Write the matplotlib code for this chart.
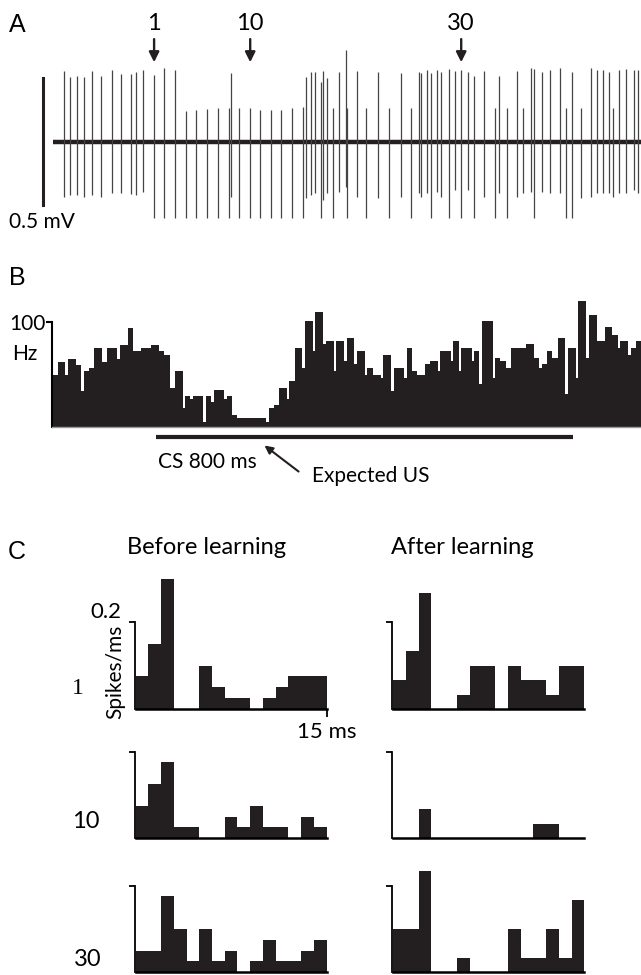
import numpy as np
import matplotlib.pyplot as plt

# --------- figure params --------

W, H = 641, 975
plt.rcParams['font.family'] = ['Lato', 'DejaVu Sans']
ink = '#231f20'
bigsize = 17
txtsize = 15

# --------- panel A: extracellular trace --------

# spike time (ms), peak (mV) and trough (mV) of each spike
spike_t = [112, 173, 235, 308, 390, 484, 586, 676, 778, 831, 901,
           1011, 1114, 1220, 1330, 1432, 1535, 1645, 1759, 1780, 1862,
           1972, 2074, 2176, 2283, 2393, 2503, 2528, 2577, 2618, 2679,
           2700, 2741, 2802, 2863, 2925, 2937, 3039, 3129, 3252, 3362,
           3477, 3579, 3660, 3681, 3742, 3783, 3836, 3885, 3959, 4016,
           4082, 4151, 4212, 4306, 4417, 4458, 4539, 4642, 4703, 4777,
           4805, 4887, 4969, 5071, 5132, 5186, 5275, 5378, 5439, 5500,
           5562, 5602, 5664, 5725, 5807, 5848]
spike_up = [0.278, 0.254, 0.259, 0.256, 0.280, 0.259, 0.282, 0.267, 0.267, 0.276, 0.282,
            0.263, 0.289, 0.282, 0.121, 0.125, 0.128, 0.131, 0.131, 0.272, 0.131,
            0.131, 0.125, 0.125, 0.125, 0.131, 0.138, 0.256, 0.276, 0.276, 0.236,
            0.278, 0.250, 0.131, 0.276, 0.360, 0.131, 0.278, 0.131, 0.276, 0.131,
            0.269, 0.131, 0.276, 0.269, 0.282, 0.272, 0.282, 0.276, 0.285, 0.280,
            0.282, 0.276, 0.259, 0.280, 0.131, 0.259, 0.131, 0.280, 0.131, 0.289,
            0.285, 0.276, 0.282, 0.289, 0.131, 0.276, 0.131, 0.289, 0.282, 0.282,
            0.276, 0.131, 0.282, 0.285, 0.282, 0.282]
spike_dn = [-0.217, -0.210, -0.210, -0.217, -0.210, -0.217, -0.203, -0.201, -0.206, -0.210, -0.197,
            -0.302, -0.302, -0.302, -0.302, -0.302, -0.302, -0.302, -0.302, -0.217, -0.302,
            -0.302, -0.302, -0.302, -0.302, -0.302, -0.302, -0.223, -0.210, -0.203, -0.302,
            -0.230, -0.203, -0.302, -0.197, -0.177, -0.302, -0.217, -0.302, -0.223, -0.302,
            -0.217, -0.302, -0.203, -0.217, -0.203, -0.302, -0.197, -0.217, -0.302, -0.190,
            -0.302, -0.190, -0.302, -0.217, -0.302, -0.203, -0.302, -0.217, -0.203, -0.197,
            -0.302, -0.197, -0.203, -0.203, -0.302, -0.302, -0.223, -0.217, -0.203, -0.203,
            -0.203, -0.217, -0.203, -0.203, -0.190, -0.203]
trace_end = 5880
scale_mv = 0.5
marked_trials = ['1', '10', '30']
marked_t = [1011, 1972, 4082]

# --------- panel B: firing rate, 5 ms bins (Hz) --------

binw = 5
rate_hz = [
    50, 50, 62, 62, 62, 50, 65, 65, 65, 59,
    59, 34, 53, 53, 56, 56, 75, 75, 75, 62,
    62, 75, 75, 75, 75, 65, 78, 78, 78, 94,
    94, 72, 72, 72, 75, 75, 75, 75, 78, 78,
    78, 72, 72, 69, 69, 37, 37, 53, 53, 53,
    18, 30, 30, 27, 30, 30, 30, 30, 5, 30,
    30, 24, 35, 35, 35, 35, 27, 30, 30, 11,
    11, 9, 9, 9, 9, 9, 9, 9, 9, 9,
    9, 9, 5, 18, 18, 21, 21, 37, 37, 37,
    27, 44, 44, 75, 75, 75, 56, 101, 101, 101,
    72, 110, 110, 110, 79, 82, 82, 82, 53, 82,
    82, 82, 63, 85, 85, 85, 60, 72, 72, 72,
    50, 56, 56, 50, 50, 50, 47, 69, 69, 69,
    34, 56, 56, 56, 56, 47, 75, 75, 53, 53,
    50, 50, 50, 60, 60, 63, 63, 63, 53, 72,
    72, 72, 72, 63, 82, 82, 53, 75, 75, 75,
    75, 63, 72, 72, 41, 101, 101, 101, 101, 47,
    66, 66, 63, 63, 56, 56, 75, 75, 75, 75,
    75, 75, 79, 79, 79, 66, 66, 56, 60, 60,
    72, 72, 66, 66, 85, 85, 85, 31, 75, 75,
    75, 47, 120, 120, 120, 66, 107, 107, 107, 82,
    82, 82, 95, 95, 95, 88, 88, 75, 82, 82,
    82, 69, 75, 75, 82, 82]
cs_on = 200
cs_off = 1000
expected_us = 400

# --------- panel C: 1 ms bins (spikes/ms) --------

before_1 = [0.075, 0.15, 0.3, 0, 0, 0.1, 0.05, 0.025, 0.025, 0, 0.025, 0.05, 0.075, 0.075, 0.075]
after_1 = [0.067, 0.133, 0.267, 0, 0, 0.033, 0.1, 0.1, 0, 0.1, 0.067, 0.067, 0.033, 0.1, 0.1]
before_10 = [0.075, 0.125, 0.175, 0.025, 0.025, 0, 0, 0.05, 0.025, 0.075, 0.025, 0.025, 0, 0.05, 0.025]
after_10 = [0, 0, 0.067, 0, 0, 0, 0, 0, 0, 0, 0, 0.033, 0.033, 0, 0]
before_30 = [0.05, 0.05, 0.175, 0.1, 0.025, 0.1, 0.025, 0.05, 0, 0.025, 0.075, 0.025, 0.025, 0.05, 0.075]
after_30 = [0.1, 0.1, 0.233, 0, 0, 0.033, 0, 0, 0, 0.1, 0.033, 0.033, 0.1, 0.033, 0.167]
row_labels = ['1', '10', '30']
col_labels = ['Before learning', 'After learning']


# --------- helpers -----------

def px_axes(x0, y0, x1, y1):
    # axes placed by pixel box (top-left origin)
    return plt.axes([x0 / W, 1 - y1 / H, (x1 - x0) / W, (y1 - y0) / H])


def fig_text(x, y, s, **kw):
    plt.gcf().text(x / W, 1 - y / H, s, **kw)


def panel_a():
    ax = px_axes(53, 0, 641, 240)
    ax.set_xlim(0, trace_end)
    ax.set_ylim(-0.387, 0.558)
    ax.axis('off')

    ax.plot([0, trace_end], [0, 0], color=ink, lw=3.2, solid_capstyle='butt')
    ax.vlines(spike_t, spike_dn, spike_up, color='#444444', lw=0.9)

    # scale bar
    ax.plot([-100, -100], [-scale_mv / 2, scale_mv / 2], color=ink, lw=2.2, clip_on=False)
    ax.text(-110, -0.316, '0.5 mV', ha='center', va='center', fontsize=txtsize,
            clip_on=False)

    for lab, t in zip(marked_trials, marked_t):
        ax.annotate('', xy=(t, 0.302), xytext=(t, 0.415),
                    arrowprops=dict(arrowstyle='-|>', color=ink, lw=1.7, mutation_scale=15))
        ax.text(t, 0.467, lab, ha='center', va='center', fontsize=bigsize)


def panel_b():
    ax = px_axes(52.3, 280, 641, 500)
    nb = len(rate_hz)
    ax.set_xlim(0, nb * binw)
    ax.set_ylim(-69.5, 140)

    edges = np.arange(nb + 1) * binw
    ax.stairs(rate_hz, edges, fill=True, color=ink, lw=0)

    for s in ['top', 'right']:
        ax.spines[s].set_visible(False)
    ax.spines['left'].set_bounds(0, 100)
    ax.spines['left'].set_linewidth(1.5)
    ax.spines['bottom'].set_position(('data', 0))
    ax.spines['bottom'].set_color('#9a9a9a')
    ax.spines['bottom'].set_linewidth(1.0)
    ax.set_xticks([])
    ax.set_yticks([100])
    ax.set_yticklabels(['100'], fontsize=txtsize)
    ax.tick_params(axis='y', length=4, width=1.5, pad=1)
    ax.text(-52, 70, 'Hz', ha='center', va='center', fontsize=txtsize, clip_on=False)

    ax.plot([cs_on, cs_off], [-9.5, -9.5], color=ink, lw=3.0, clip_on=False,
            solid_capstyle='butt')
    ax.text(297, -33, 'CS 800 ms', ha='center', va='center', fontsize=txtsize)
    ax.annotate('', xy=(expected_us + 3, -16), xytext=(477, -44),
                arrowprops=dict(arrowstyle='-|>', color=ink, lw=1.5, mutation_scale=12))
    ax.text(612, -47, 'Expected US', ha='center', va='center', fontsize=txtsize)


def small_hist(ax, vals, first=False):
    nb = len(vals)
    ax.set_xlim(-0.05, nb + 0.05)
    ax.set_ylim(-8 / 433.5, 140 / 433.5)
    ax.stairs(vals, np.arange(nb + 1), fill=True, color=ink, lw=0)
    for s in ['top', 'right']:
        ax.spines[s].set_visible(False)
    ax.spines['left'].set_bounds(0, 0.2)
    ax.spines['left'].set_linewidth(1.3)
    ax.spines['bottom'].set_position(('data', 0))
    ax.spines['bottom'].set_bounds(0, nb)
    ax.spines['bottom'].set_linewidth(1.8)
    ax.set_yticks([0.2])
    ax.set_yticklabels([])
    ax.tick_params(axis='y', length=4, width=1.3)
    ax.patch.set_alpha(0)
    if first:
        ax.set_xticks([nb])
        ax.set_xticklabels(['15 ms'], fontsize=16)
        ax.tick_params(axis='x', length=6, width=1.3, pad=3)
        ax.text(-1.1, 0.2, '0.2', ha='right', va='bottom', fontsize=16)
        ax.text(-1.63, 0.085, 'Spikes/ms', rotation=90, ha='center', va='center',
                fontsize=txtsize)
    else:
        ax.set_xticks([])


def panel_c():
    fig_text(207, 548, col_labels[0], ha='center', va='center', fontsize=bigsize)
    fig_text(462, 548, col_labels[1], ha='center', va='center', fontsize=bigsize)

    data = [(before_1, after_1), (before_10, after_10), (before_30, after_30)]
    base = [709, 838.3, 972.3]
    lab_x = [78, 86, 88]
    lab_y = [688, 822, 960]

    for r in range(3):
        b = base[r]
        ax = px_axes(134.9, b - 140, 327.3, b + 8)
        small_hist(ax, data[r][0], first=(r == 0))
        ax = px_axes(392.5, b - 140, 584.9, b + 8)
        small_hist(ax, data[r][1])

        if r == 0:
            fig_text(lab_x[r], lab_y[r], row_labels[r], ha='center', va='center',
                     fontsize=bigsize, family='Liberation Serif')
        else:
            fig_text(lab_x[r], lab_y[r], row_labels[r], ha='center', va='center',
                     fontsize=bigsize)


def plot_figure():
    plt.figure(figsize=(W / 100, H / 100), dpi=100)

    fig_text(17, 25, 'A', ha='center', va='center', fontsize=18, family='Liberation Sans')
    fig_text(17, 278, 'B', ha='center', va='center', fontsize=18, family='Liberation Sans')
    fig_text(17, 552, 'C', ha='center', va='center', fontsize=18, family='Liberation Sans')

    panel_a()
    panel_b()
    panel_c()

    plt.savefig('out.png', dpi=100)


plot_figure()
